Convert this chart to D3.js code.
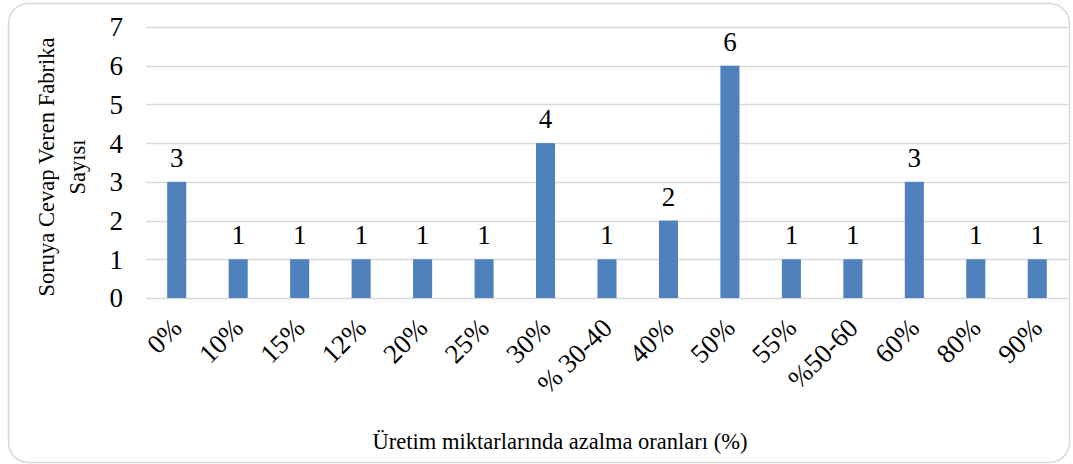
<!DOCTYPE html>
<html>
<head>
<meta charset="utf-8">
<script src="https://cdn.jsdelivr.net/npm/d3@7"></script>
<style>
  body { margin: 0; background: #fff; }
</style>
</head>
<body>
<div id="chart"></div>
<script>
const categories = ["0%", "10%", "15%", "12%", "20%", "25%", "30%", "% 30-40", "40%", "50%", "55%", "%50-60", "60%", "80%", "90%"];
const counts = [3, 1, 1, 1, 1, 1, 4, 1, 2, 6, 1, 1, 3, 1, 1];
const yTicks = [0, 1, 2, 3, 4, 5, 6, 7];
const yTitle = ["Soruya Cevap Veren Fabrika", "Sayısı"];
const xTitle = "Üretim miktarlarında azalma oranları (%)";

const width = 1073;
const height = 464;
const margin = {top: 27, bottom: 166, left: 146, right: 5};
const font = "'Liberation Serif', 'Times New Roman', Times, serif";

const svg = d3.select('#chart')
    .append('svg')
    .attr('width', width)
    .attr('height', height)
    .attr('font-family', font);

// chart frame
svg.append('rect')
    .attr('x', 8.5)
    .attr('y', 3.5)
    .attr('width', 1061)
    .attr('height', 459)
    .attr('rx', 20)
    .attr('fill', '#fff')
    .attr('stroke', '#d9d9d9')
    .attr('stroke-width', 1.5);

const xScale = d3.scaleBand()
    .domain(categories)
    .range([margin.left, width - margin.right])
    .paddingInner(0.69)
    .paddingOuter(0.345);

const yScale = d3.scaleLinear()
    .domain([0, 7])
    .range([height - margin.bottom, margin.top]);

// gridlines
svg.selectAll('.grid')
    .data(yTicks)
    .enter()
    .append('line')
    .attr('class', 'grid')
    .attr('x1', margin.left)
    .attr('x2', width - margin.right)
    .attr('y1', d => Math.round(yScale(d)) + 0.5)
    .attr('y2', d => Math.round(yScale(d)) + 0.5)
    .attr('stroke', '#d9d9d9')
    .attr('stroke-width', 1.5);

// y tick labels
svg.selectAll('.ytick')
    .data(yTicks)
    .enter()
    .append('text')
    .attr('class', 'ytick')
    .attr('x', 123)
    .attr('y', d => yScale(d))
    .attr('dy', '0.35em')
    .attr('text-anchor', 'end')
    .attr('font-size', 27)
    .text(d => d);

// bars
svg.selectAll('.bar')
    .data(counts)
    .enter()
    .append('rect')
    .attr('class', 'bar')
    .attr('x', (d, i) => xScale(categories[i]))
    .attr('y', d => yScale(d))
    .attr('width', xScale.bandwidth())
    .attr('height', d => yScale(0) - yScale(d))
    .attr('fill', '#4f81bd');

// data labels
svg.selectAll('.label')
    .data(counts)
    .enter()
    .append('text')
    .attr('class', 'label')
    .attr('x', (d, i) => xScale(categories[i]) + xScale.bandwidth() / 2)
    .attr('y', d => yScale(d) - 15)
    .attr('text-anchor', 'middle')
    .attr('font-size', 27)
    .text(d => d);

// x tick labels, rotated
svg.selectAll('.xtick')
    .data(categories)
    .enter()
    .append('text')
    .attr('class', 'xtick')
    .attr('transform', d => `translate(${xScale(d) + xScale.bandwidth() / 2},323) rotate(-45)`)
    .attr('dy', '0.35em')
    .attr('text-anchor', 'end')
    .attr('font-size', 27)
    .text(d => d);

// y axis title
const yt = svg.append('text')
    .attr('transform', 'translate(54,167) rotate(-90)')
    .attr('text-anchor', 'middle')
    .attr('font-size', 22.5);
yt.selectAll('tspan')
    .data(yTitle)
    .enter()
    .append('tspan')
    .attr('x', 0)
    .attr('dy', (d, i) => i === 0 ? 0 : 31)
    .text(d => d);

// x axis title
svg.append('text')
    .attr('x', 560)
    .attr('y', 449)
    .attr('text-anchor', 'middle')
    .attr('font-size', 22.5)
    .text(xTitle);
</script>
</body>
</html>
